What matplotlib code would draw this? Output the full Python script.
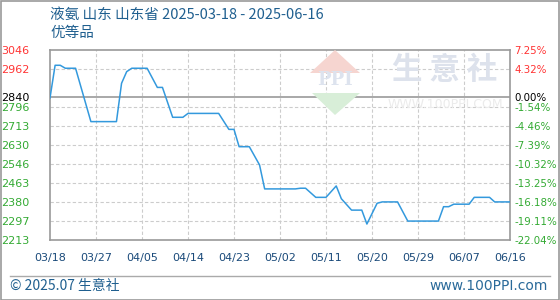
import numpy as np
import pandas as pd
import matplotlib
matplotlib.use("Agg")
import matplotlib.pyplot as plt
from matplotlib.patches import Rectangle, Polygon
from matplotlib.lines import Line2D

plt.rcParams['font.family'] = ['DejaVu Sans']
CJK = ['Noto Sans CJK SC', 'DejaVu Sans']

# data (day offset from 2025-03-18, price)
start = pd.Timestamp('2025-03-18')
day_offsets = [0, 1, 2, 3, 5, 8, 13, 14, 15, 16, 19, 21, 22, 24, 26, 27, 33, 35, 36,
               37, 39, 41, 42, 48, 49, 50, 52, 54, 56, 57, 59, 61, 62, 64, 65, 68,
               70, 76, 77, 78, 79, 82, 83, 86, 87, 90]
prices = [2836, 2979, 2979, 2966, 2966, 2732, 2732, 2900, 2951, 2966, 2966, 2882, 2882,
          2751, 2751, 2768, 2768, 2698, 2698, 2622, 2622, 2542, 2437, 2437, 2440, 2440,
          2400, 2400, 2450, 2394, 2344, 2344, 2283, 2374, 2380, 2380, 2296, 2296, 2359,
          2359, 2370, 2370, 2400, 2400, 2380, 2380]
dates = [start + pd.Timedelta(days=d) for d in day_offsets]

base = 2840
y_ticks = [2213, 2297, 2380, 2463, 2546, 2630, 2713, 2796, 2840, 2962, 3046]
pct_labels = ['-22.04%', '-19.11%', '-16.18%', '-13.25%', '-10.32%', '-7.39%',
              '-4.46%', '-1.54%', '0.00%', '4.32%', '7.25%']
x_ticks = [start + pd.Timedelta(days=9 * i) for i in range(11)]
x_labels = [d.strftime('%m/%d') for d in x_ticks]

RED = '#ff3333'
GREEN = '#33aa33'
BLUE_TXT = '#1f5f8f'

def tick_color(v):
    if v > base:
        return RED
    if v < base:
        return GREEN
    return 'black'

fig = plt.figure(figsize=(5.6, 3.0), dpi=100)
fig.patch.set_facecolor('white')
W, H = 560, 300

# outer border and footer line
fig.add_artist(Rectangle((0.5 / W, 0.5 / H), 1 - 1.5 / W, 1 - 1.5 / H, transform=fig.transFigure,
                         fill=False, edgecolor='#999999', lw=1.2))
fig.add_artist(Line2D([10 / W, 550 / W], [1 - 276 / H] * 2, transform=fig.transFigure,
                      color='#aaaaaa', lw=1))

ax = fig.add_axes([50 / W, 1 - 240 / H, 460 / W, 190 / H])

# watermark
fig.add_artist(Polygon([[310 / W, 1 - 73 / H], [335 / W, 1 - 50 / H], [360 / W, 1 - 73 / H]],
                       closed=True, transform=fig.transFigure, facecolor='#f6d5d0',
                       edgecolor='none', zorder=0.5))
fig.add_artist(Polygon([[312 / W, 1 - 93 / H], [360 / W, 1 - 93 / H], [335 / W, 1 - 115 / H]],
                       closed=True, transform=fig.transFigure, facecolor='#d8eed8',
                       edgecolor='none', zorder=0.5))
fig.text(335 / W, 1 - 80 / H, 'PPI', ha='center', va='center', fontsize=13,
         fontweight='bold', color='#dde3ee', family='DejaVu Serif', zorder=0.6)
fig.text(445 / W, 1 - 70 / H, '生 意 社', ha='center', va='center', fontsize=22,
         fontweight='bold', color='#dde2ec', family=CJK, zorder=0.6)
fig.text(445 / W, 1 - 104 / H, 'WWW.100PPI.COM', ha='center', va='center', fontsize=9,
         color='#ebebeb', zorder=0.6)
ax.set_facecolor('none')

ax.plot(dates, prices, color='#3399dd', lw=1.1, zorder=3)

ax.set_xlim(start, x_ticks[-1])
ax.set_ylim(2213, 3046)
ax.set_yticks(y_ticks)
ax.set_xticks(x_ticks)
ax.set_xticklabels(x_labels, color='#1a4a7a', fontsize=8)
ax.set_yticklabels([str(v) for v in y_ticks], fontsize=8)
for lbl, v in zip(ax.get_yticklabels(), y_ticks):
    lbl.set_color(tick_color(v))
ax.tick_params(length=0, pad=9)
ax.tick_params(axis='y', pad=15)

for v in y_ticks[1:-1]:
    if v == base:
        ax.axhline(v, color='#999999', lw=1.2, zorder=2)
    else:
        ax.axhline(v, color='#cccccc', lw=0.8, ls=(0, (3, 2)), zorder=1)
for d in x_ticks[1:-1]:
    ax.axvline(d, color='#cccccc', lw=0.8, ls=(0, (3, 2)), zorder=1)

for s in ax.spines.values():
    s.set_color('#999999')
    s.set_linewidth(1.2)

ax2 = ax.twinx()
ax2.set_ylim(ax.get_ylim())
ax2.set_yticks(y_ticks)
ax2.set_yticklabels(pct_labels, fontsize=7.4)
for lbl, v in zip(ax2.get_yticklabels(), y_ticks):
    lbl.set_color(tick_color(v))
ax2.tick_params(length=0, pad=3)
for s in ax2.spines.values():
    s.set_visible(False)

fig.text(50 / W, 1 - 15 / H, '液氨 山东 山东省 2025-03-18 - 2025-06-16', ha='left', va='center',
         fontsize=10.5, color=BLUE_TXT, family=CJK)
fig.text(50 / W, 1 - 33 / H, '优等品', ha='left', va='center', fontsize=10.5,
         color=BLUE_TXT, family=CJK)
fig.text(10 / W, 1 - 286 / H, '© 2025.07 生意社', ha='left', va='center', fontsize=10,
         color=BLUE_TXT, family=CJK)
fig.text(548 / W, 1 - 286 / H, 'www.100PPI.com', ha='right', va='center', fontsize=10,
         color='#2a6a9a')

fig.savefig('out.png', dpi=100)
